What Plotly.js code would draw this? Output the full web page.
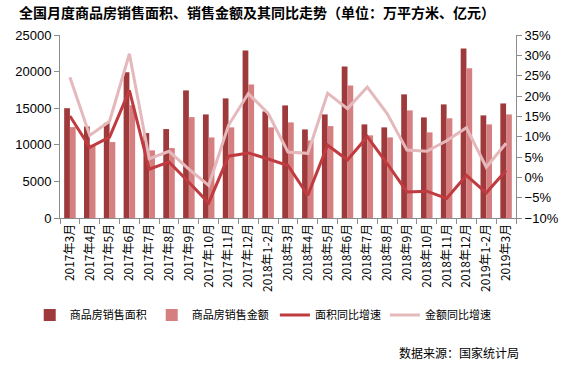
<!DOCTYPE html>
<html>
<head>
<meta charset="utf-8">
<script src="https://cdn.plot.ly/plotly-3.0.1.min.js"></script>
<style>html,body{margin:0;padding:0;background:#fff;}#chart{width:561px;height:365px;}</style>
</head>
<body>
<div id="chart"></div>
<script>
const categories = ["2017年3月","2017年4月","2017年5月","2017年6月","2017年7月","2017年8月","2017年9月","2017年10月","2017年11月","2017年12月","2018年1-2月","2018年3月","2018年4月","2018年5月","2018年6月","2018年7月","2018年8月","2018年9月","2018年10月","2018年11月","2018年12月","2019年1-2月","2019年3月"];
const salesArea = [15000,12500,13000,19900,11600,12150,17430,14150,16340,22890,14560,15380,12100,14150,20700,12790,12380,16890,13740,15520,23160,14020,15650];
const salesAmount = [12420,10000,10370,15400,9240,9550,13780,11010,12380,18250,12380,13060,10600,12560,18110,11290,11010,14700,11700,13620,20470,12790,14150];
const areaGrowth = [15.1,7.4,9.9,21.4,2.0,3.8,-1.2,-6.3,5.2,6.0,4.5,2.9,-4.4,7.9,4.3,10.0,3.4,-3.6,-3.4,-5.2,0.5,-3.8,1.7];
const amountGrowth = [24.6,10.3,13.8,30.4,4.6,6.4,2.0,-2.0,12.8,20.6,15.7,6.2,5.9,20.7,16.9,22.2,15.7,6.7,6.4,9.0,12.2,2.5,8.4];

const fontFam = "Liberation Sans, Arial, Noto Sans CJK SC, sans-serif";
const cjkFam = "Noto Sans CJK SC, Liberation Sans, sans-serif";

const data = [
  {type:"bar", name:"商品房销售面积", x:categories, y:salesArea, marker:{color:"#9e3a3b"}, yaxis:"y", legend:"legend"},
  {type:"bar", name:"商品房销售金额", x:categories, y:salesAmount, marker:{color:"#d67f80"}, yaxis:"y", legend:"legend"},
  {type:"scatter", mode:"lines", name:"面积同比增速", x:categories, y:areaGrowth, line:{color:"#bf3b3f", width:3}, yaxis:"y2", legend:"legend2"},
  {type:"scatter", mode:"lines", name:"金额同比增速", x:categories, y:amountGrowth, line:{color:"#e5b9bc", width:3}, yaxis:"y2", legend:"legend2"}
];

const legendBase = {orientation:"h", xanchor:"left", xref:"container", y:0.137, yref:"container", yanchor:"middle",
    font:{family:cjkFam, size:11, color:"#000"}, itemwidth:30, entrywidth:77, entrywidthmode:"pixels",
    tracegroupgap:0, traceorder:"normal", bgcolor:"rgba(0,0,0,0)"};

const layout = {
  width:561, height:365,
  margin:{l:60, r:45, t:35, b:147, pad:0},
  paper_bgcolor:"#fff", plot_bgcolor:"#fff",
  font:{family:fontFam, size:13, color:"#000"},
  title:{text:"<b>全国月度商品房销售面积、销售金额及其同比走势（单位：万平方米、亿元）</b>",
    font:{family:cjkFam, size:14, color:"#000"}, xref:"container", x:0.458, xanchor:"center", yref:"container", y:0.965, yanchor:"middle"},
  barmode:"group", bargap:0.42, bargroupgap:0,
  showlegend:true,
  legend:Object.assign({}, legendBase, {x:0.053}),
  legend2:Object.assign({}, legendBase, {x:0.49, entrywidth:65}),
  xaxis:{type:"category", tickangle:-90, tickfont:{family:cjkFam, size:12, color:"#000"},
    showline:true, linecolor:"#8c8c8c", linewidth:1, ticks:"outside", tickson:"boundaries", ticklen:5, tickcolor:"#8c8c8c",
    showgrid:false, zeroline:false, fixedrange:true},
  yaxis:{range:[0,25000], dtick:5000, tickformat:"d", showline:true, linecolor:"#8c8c8c", linewidth:1,
    ticks:"outside", ticklen:5, tickcolor:"#8c8c8c", showgrid:false, zeroline:false, tickfont:{size:13}},
  yaxis2:{range:[-10,35], dtick:5, ticksuffix:"%", overlaying:"y", side:"right", showline:true, linecolor:"#8c8c8c", linewidth:1,
    ticks:"outside", ticklen:5, tickcolor:"#8c8c8c", showgrid:false, zeroline:false, tickfont:{size:13}},
  annotations:[{text:"数据来源：国家统计局", xref:"paper", yref:"paper", x:1.01, xanchor:"right", y:-0.735, yanchor:"middle",
    showarrow:false, font:{family:cjkFam, size:12, color:"#000"}}]
};

Plotly.newPlot("chart", data, layout, {displayModeBar:false, staticPlot:true});
</script>
</body>
</html>
